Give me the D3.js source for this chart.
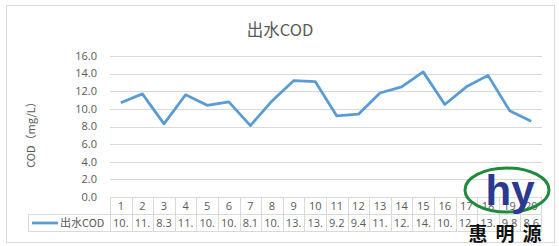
<!DOCTYPE html>
<html>
<head>
<meta charset="utf-8">
<script src="https://cdn.jsdelivr.net/npm/d3@7"></script>
<style>
  body { margin: 0; background: #fff; }
  text { font-family: "Noto Sans CJK SC", "Open Sans", sans-serif; }
</style>
</head>
<body>
<div id="chart"></div>
<script>
// chart data
var categories = ["1","2","3","4","5","6","7","8","9","10","11","12","13","14","15","16","17","18","19","20"];
var series_name = "出水COD";
var values = [10.7, 11.7, 8.3, 11.6, 10.4, 10.8, 8.1, 10.9, 13.2, 13.1, 9.2, 9.4, 11.8, 12.5, 14.2, 10.5, 12.5, 13.8, 9.8, 8.6];
var y_ticks = [0, 2, 4, 6, 8, 10, 12, 14, 16];
var title = "出水COD";
var y_title = "COD（mg/L）";

function draw_chart()
{
  var width = 559, height = 246;
  var text_color = "#595959";
  var grid_color = "#d9d9d9";
  var line_color = "#5b9bd5";

  var svg = d3.select("#chart").append("svg")
      .attr("width", width)
      .attr("height", height);

  // outer frame
  svg.append("rect")
      .attr("x", 6.5).attr("y", 5.5)
      .attr("width", 548).attr("height", 237)
      .attr("fill", "white")
      .attr("stroke", grid_color);

  var x = d3.scaleBand().domain(categories).range([110, 542]);
  var y = d3.scaleLinear().domain([0, 16]).range([197, 56]);

  svg.append("text")
      .attr("x", 280).attr("y", 36)
      .attr("text-anchor", "middle")
      .attr("font-size", "16.5px")
      .attr("fill", text_color)
      .text(title);

  // gridlines + y labels
  var yAxis = svg.append("g");
  y_ticks.forEach(function(t) {
    yAxis.append("line")
        .attr("x1", 110).attr("x2", 542)
        .attr("y1", Math.round(y(t)) + 0.5).attr("y2", Math.round(y(t)) + 0.5)
        .attr("stroke", grid_color);
    yAxis.append("text")
        .attr("x", 97).attr("y", y(t))
        .attr("dy", "0.35em")
        .attr("text-anchor", "end")
        .attr("font-size", "11px")
        .attr("fill", text_color)
        .style("font-family", "'Open Sans', sans-serif")
        .text(t.toFixed(1));
  });

  svg.append("text")
      .attr("transform", "translate(35,132)rotate(-90)")
      .attr("text-anchor", "middle")
      .attr("font-size", "11px")
      .attr("fill", text_color)
      .text(y_title);

  // line
  var line = d3.line()
      .x(function(d, i) { return x(categories[i]) + x.bandwidth() / 2; })
      .y(function(d) { return y(d); });

  svg.append("path")
      .datum(values)
      .attr("d", line)
      .attr("fill", "none")
      .attr("stroke", line_color)
      .attr("stroke-width", 2.8)
      .attr("stroke-linejoin", "round");

  // data table under the axis
  var row1 = 197, row2 = 214, row3 = 231;
  var table = svg.append("g");
  table.append("line").attr("x1", 28).attr("x2", 542).attr("y1", row2 + 0.5).attr("y2", row2 + 0.5).attr("stroke", grid_color);
  table.append("line").attr("x1", 28).attr("x2", 542).attr("y1", row3 + 0.5).attr("y2", row3 + 0.5).attr("stroke", grid_color);
  table.append("line").attr("x1", 28.5).attr("x2", 28.5).attr("y1", row2).attr("y2", row3).attr("stroke", grid_color);

  categories.forEach(function(c, i) {
    var x0 = Math.round(x(c)) + 0.5;
    table.append("line").attr("x1", x0).attr("x2", x0).attr("y1", row1).attr("y2", row3).attr("stroke", grid_color);
  });
  table.append("line").attr("x1", 541.5).attr("x2", 541.5).attr("y1", row1).attr("y2", row3).attr("stroke", grid_color);

  table.selectAll(".cat")
      .data(categories)
    .enter().append("text")
      .attr("class", "cat")
      .attr("x", function(d) { return x(d) + x.bandwidth() / 2; })
      .attr("y", (row1 + row2) / 2 + 1)
      .attr("dy", "0.35em")
      .attr("text-anchor", "middle")
      .attr("font-size", "11px")
      .attr("fill", text_color)
      .style("font-family", "'Open Sans', sans-serif")
      .text(function(d) { return d; });

  table.selectAll(".val")
      .data(values)
    .enter().append("text")
      .attr("class", "val")
      .attr("x", function(d, i) { return x(categories[i]) + x.bandwidth() / 2; })
      .attr("y", (row2 + row3) / 2 + 1)
      .attr("dy", "0.35em")
      .attr("text-anchor", "middle")
      .attr("font-size", "11px")
      .attr("fill", text_color)
      .style("font-family", "'Open Sans', sans-serif")
      .text(function(d) { return d.toFixed(1); })
      .each(function() {
        // cut text like the spreadsheet does when the cell is too narrow
        var el = d3.select(this), s = el.text();
        while (this.getComputedTextLength() > x.bandwidth() - 2 && s.length > 1) {
          s = s.slice(0, -1);
          el.text(s);
        }
      });

  // legend cell
  table.append("line")
      .attr("x1", 32).attr("x2", 58)
      .attr("y1", (row2 + row3) / 2 + 0.5).attr("y2", (row2 + row3) / 2 + 0.5)
      .attr("stroke", line_color).attr("stroke-width", 2.8);
  table.append("text")
      .attr("x", 60).attr("y", (row2 + row3) / 2 + 1)
      .attr("dy", "0.35em")
      .attr("font-size", "11px")
      .attr("fill", text_color)
      .text(series_name);

  // watermark logo
  var logo = svg.append("g");
  logo.append("ellipse")
      .attr("cx", 507).attr("cy", 190)
      .attr("rx", 42).attr("ry", 22)
      .attr("fill", "none")
      .attr("stroke", "#1f8a3b")
      .attr("stroke-width", 3);
  logo.append("text")
      .attr("x", 510).attr("y", 205)
      .attr("text-anchor", "middle")
      .attr("font-size", "42px")
      .attr("font-weight", "bold")
      .attr("fill", "#2b3990")
      .style("font-family", "'Liberation Sans', sans-serif")
      .text("hy");
  logo.append("text")
      .attr("x", 509).attr("y", 241)
      .attr("text-anchor", "middle")
      .attr("font-size", "19px")
      .attr("font-weight", "bold")
      .attr("fill", "#111")
      .attr("letter-spacing", "8px")
      .text("惠明源");
}
draw_chart();
</script>
</body>
</html>
